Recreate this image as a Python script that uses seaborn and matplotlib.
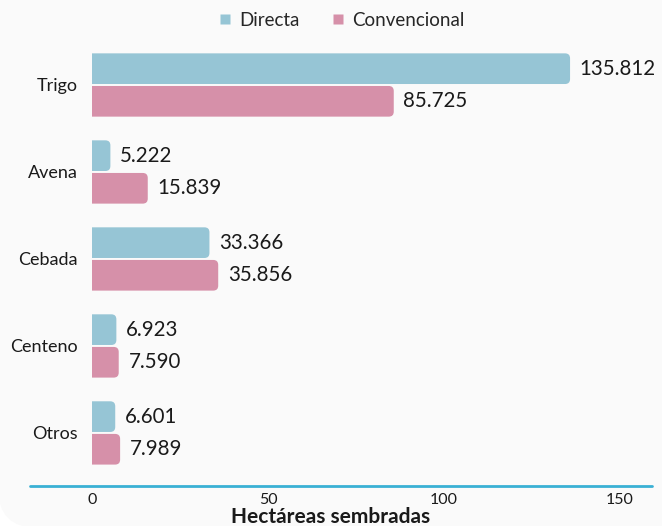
import matplotlib
matplotlib.use("Agg")
import matplotlib.pyplot as plt
import seaborn as sns
import pandas as pd
from matplotlib.patches import FancyBboxPatch
from matplotlib.lines import Line2D

categories = ["Trigo", "Avena", "Cebada", "Centeno", "Otros"]
directa = [135.812, 5.222, 33.366, 6.923, 6.601]
convencional = [85.725, 15.839, 35.856, 7.590, 7.989]
series_names = ["Directa", "Convencional"]
xticks = [0, 50, 100, 150]
colors = ["#96c5d5", "#d690a9"]

df = pd.DataFrame({
    "cat": categories * 2,
    "serie": [series_names[0]] * len(categories) + [series_names[1]] * len(categories),
    "val": directa + convencional,
})

sns.set_style("white")
plt.rcParams["font.family"] = ["Lato", "DejaVu Sans"]
W, H = 662, 526
fig = plt.figure(figsize=(W / 100, H / 100), dpi=100, facecolor="white")

# card background
card = FancyBboxPatch((-0.02, -0.02), 7.5, 6.5,
                      boxstyle="round,pad=0,rounding_size=0.4",
                      transform=fig.dpi_scale_trans, facecolor="#fafafa",
                      edgecolor="none", zorder=-10)
fig.patches.append(card)

left, right, top, bottom = 92, 620, 41.5, 486
ax = fig.add_axes([left / W, 1 - bottom / H, (right - left) / W, (bottom - top) / H])
ax.set_facecolor("none")
ax.set_zorder(2)

sns.barplot(data=df, y="cat", x="val", hue="serie", orient="h",
            palette=colors, width=0.75, gap=0.06, ax=ax, legend=False,
            saturation=1)

ax.set_xlim(0, 150)
ax.set_ylim(4.61, -0.5)

# value labels
for cont, vals in zip(ax.containers, [directa, convencional]):
    ax.bar_label(cont, labels=[f"{v:.3f}" for v in vals], padding=7,
                 fontsize=14.8, color="#1a1a1a")

# rounded bars (right corners)
px_x = (right - left) / 150.0
px_y = (bottom - top) / 5.11
r_px = 5
rx = r_px / px_x
aspect = (r_px / px_y) / rx
for p in list(ax.patches):
    x, y = p.get_x(), p.get_y()
    w, h = p.get_width(), p.get_height()
    fc = p.get_facecolor()
    p.set_visible(False)
    nb = FancyBboxPatch((x - rx, y), w + rx, h,
                        boxstyle=f"round,pad=0,rounding_size={rx}",
                        mutation_aspect=aspect, facecolor=fc, edgecolor="none")
    ax.add_patch(nb)

ax.set_xticks(xticks)
ax.set_xticklabels([str(t) for t in xticks])
ax.tick_params(axis="x", length=0, pad=5, labelsize=11.5, labelcolor="#1a1a1a")
ax.tick_params(axis="y", length=0, pad=10, labelsize=13, labelcolor="#1a1a1a")
ax.set_xlabel("")
ax.set_ylabel("")
for s in ax.spines.values():
    s.set_visible(False)

# axis line spanning wider
fig.add_artist(Line2D([30 / W, 652 / W], [1 - bottom / H, 1 - bottom / H],
                      transform=fig.transFigure, color="#3ab0d4", lw=2))

fig.text(0.5, 1 - 517 / H, "Hectáreas sembradas", ha="center", va="center",
         fontsize=15, fontweight="bold", color="#1a1a1a")

handles = [plt.Line2D([], [], marker="s", linestyle="none", markersize=7.5,
                      markerfacecolor=c, markeredgecolor="none") for c in colors]
fig.legend(handles, series_names, loc="center", bbox_to_anchor=(341 / W, 1 - 20 / H),
           ncol=2, frameon=False, fontsize=13.5, handletextpad=0.4,
           columnspacing=1.6, handlelength=0.8)

fig.savefig("out.png", dpi=100, facecolor="white")
